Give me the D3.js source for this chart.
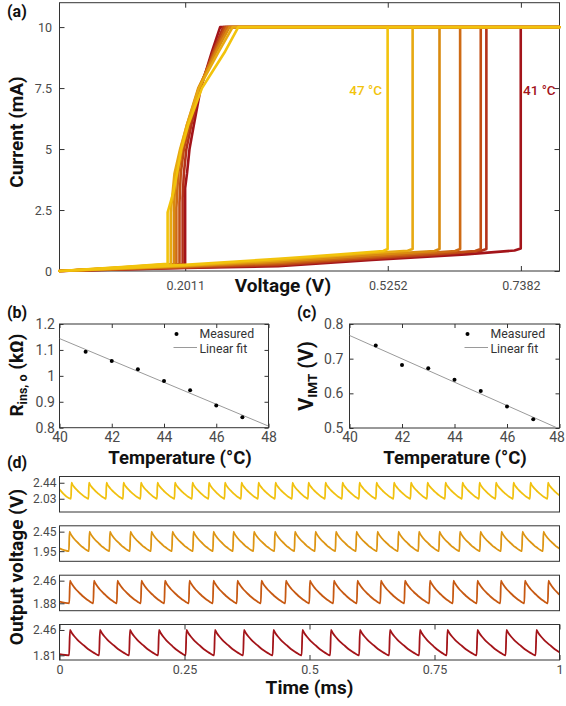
<!DOCTYPE html>
<html><head><meta charset="utf-8">
<script src="https://cdn.jsdelivr.net/npm/d3@7"></script>
<style>body{margin:0;background:#fff}svg{display:block}</style>
</head><body><svg id="c" width="566" height="706"></svg>
<script>
// ================= DATA =================
// (a) I–V sweeps at each temperature
const temps = [41, 42, 43, 44, 45, 46, 47];
const ivColors = ["#a3141a", "#b4321a", "#c14e14", "#ce6b15", "#d98a10", "#e7a912", "#f2c30c"];
const xTicksA = [0.2011, 0.5252, 0.7382];
const yTicksA = [0, 2.5, 5, 7.5, 10];
// insulating (forward) branch, [V, mA]
const ivForward = [
  [[0,0],[0.2,0.12],[0.35,0.2],[0.5,0.45],[0.65,0.68],[0.728,0.84],[0.738,0.92],[0.738,10],[0.8,10]],
  [[0,0],[0.2,0.14],[0.35,0.24],[0.5,0.5],[0.6,0.66],[0.674,0.82],[0.683,0.9],[0.683,10],[0.8,10]],
  [[0,0],[0.2,0.16],[0.35,0.28],[0.5,0.55],[0.6,0.7],[0.665,0.82],[0.674,0.9],[0.674,10],[0.8,10]],
  [[0,0],[0.2,0.18],[0.35,0.33],[0.5,0.6],[0.6,0.76],[0.633,0.82],[0.641,0.9],[0.641,10],[0.8,10]],
  [[0,0],[0.2,0.2],[0.35,0.38],[0.5,0.66],[0.6,0.82],[0.608,0.9],[0.608,10],[0.8,10]],
  [[0,0],[0.2,0.22],[0.35,0.44],[0.5,0.74],[0.557,0.83],[0.565,0.9],[0.565,10],[0.8,10]],
  [[0,0],[0.2,0.25],[0.35,0.5],[0.45,0.68],[0.518,0.82],[0.525,0.9],[0.525,10],[0.8,10]]
];
// metallic (return) branch, [V, mA]
const ivReturn = [
  [[0.8,10],[0.257,10],[0.244,9],[0.226,7.5],[0.215,6],[0.208,5],[0.204,4],[0.201,3.4],[0.201,0.26],[0.1,0.12],[0,0]],
  [[0.8,10],[0.262,10],[0.246,9],[0.225,7.5],[0.211,6],[0.203,5],[0.199,4],[0.197,3.0],[0.197,0.26],[0.1,0.12],[0,0]],
  [[0.8,10],[0.265,10],[0.247,9],[0.224,7.5],[0.208,6],[0.199,5],[0.194,4],[0.192,2.8],[0.192,0.27],[0.1,0.13],[0,0]],
  [[0.8,10],[0.268,10],[0.249,9],[0.223,7.5],[0.206,6],[0.196,5],[0.190,4],[0.187,2.6],[0.187,0.27],[0.1,0.13],[0,0]],
  [[0.8,10],[0.272,10],[0.251,9],[0.222,7.5],[0.204,6],[0.194,5],[0.186,4],[0.183,2.5],[0.183,0.28],[0.1,0.14],[0,0]],
  [[0.8,10],[0.277,10],[0.255,9],[0.223,7.5],[0.204,6],[0.193,5],[0.184,4],[0.178,2.4],[0.178,0.29],[0.1,0.15],[0,0]],
  [[0.8,10],[0.286,10],[0.265,9],[0.228,7.5],[0.206,6],[0.195,5],[0.188,4],[0.182,3.2],[0.173,2.4],[0.173,0.3],[0.1,0.16],[0,0]]
];

// (b), (c) extracted parameters
const xTicksBC = [40, 42, 44, 46, 48];
const yTicksB = [0.8, 0.9, 1, 1.1, 1.2];
const yTicksC = [0.5, 0.6, 0.7, 0.8];
const rInsMeas = [1.093, 1.057, 1.025, 0.980, 0.944, 0.886, 0.840];
const vImtMeas = [0.738, 0.682, 0.672, 0.639, 0.607, 0.562, 0.525];

// (d) oscillator output traces (top to bottom)
const traceColors = ["#f1c10f", "#dd9513", "#c75912", "#a31419"];
const vPeak = [2.44, 2.45, 2.46, 2.46];
const vTrough = [2.03, 1.95, 1.88, 1.81];
const vStart = [2.27, 2.02, 1.92, 1.84];
const peakTimes = [
  [0.024,0.059,0.094,0.128,0.163,0.196,0.231,0.266,0.299,0.331,0.364,0.398,0.432,0.466,0.498,0.532,0.566,0.600,0.634,0.669,0.703,0.736,0.772,0.806,0.840,0.873,0.908,0.942,0.977],
  [0.020,0.060,0.101,0.142,0.184,0.226,0.268,0.308,0.348,0.389,0.431,0.471,0.512,0.553,0.594,0.636,0.678,0.719,0.760,0.801,0.842,0.884,0.926,0.968],
  [0.021,0.069,0.116,0.164,0.211,0.260,0.308,0.356,0.404,0.453,0.501,0.549,0.596,0.643,0.691,0.741,0.788,0.836,0.883,0.931,0.978],
  [0.021,0.081,0.141,0.199,0.254,0.311,0.369,0.428,0.486,0.543,0.601,0.661,0.721,0.776,0.836,0.894,0.954]
];
// one decay cycle: fraction of period -> normalised level
const decayT = [0, 0.05, 0.15, 0.25, 0.35, 0.45, 0.55, 0.65, 0.75, 0.85, 0.93, 0.97];
const decayV = [1, 0.9, 0.74, 0.61, 0.5, 0.4, 0.3, 0.21, 0.13, 0.06, 0.01, 0];
const xTicksD = [0, 0.25, 0.5, 0.75, 1];

// ================= DRAWING =================
const FT = "Roboto, 'DejaVu Sans', sans-serif";
const svg = d3.select("#c");
const AX = "#333";

function styleAxis(g, fs, col) {
  g.attr("font-family", FT).attr("font-size", fs);
  g.select(".domain").remove();
  g.selectAll(".tick line").attr("stroke", AX);
  g.selectAll(".tick text").attr("fill", col || "#4a4a4a");
}
function frame(x, y, col) {
  const [x0, x1] = x.range(), [yb, yt] = y.range();
  svg.append("rect").attr("x", x0).attr("y", yt).attr("width", x1 - x0).attr("height", yb - yt)
    .attr("fill", "none").attr("stroke", col || AX).attr("stroke-width", 1);
}
function boxAxes(x, y, xt, yt, fs, padX, padY, tl) {
  const [x0, x1] = x.range(), [yb, ytop] = y.range();
  const gb = svg.append("g").attr("transform", `translate(0,${yb})`)
    .call(d3.axisBottom(x).tickValues(xt).tickSize(-tl).tickPadding(padX).tickFormat(d => String(d)))
    .call(g => styleAxis(g, fs));
  svg.append("g").attr("transform", `translate(0,${ytop})`)
    .call(d3.axisTop(x).tickValues(xt).tickSize(-tl).tickFormat(""))
    .call(g => styleAxis(g, fs));
  svg.append("g").attr("transform", `translate(${x0},0)`)
    .call(d3.axisLeft(y).tickValues(yt).tickSize(-tl).tickPadding(padY).tickFormat(d => String(d)))
    .call(g => styleAxis(g, fs));
  svg.append("g").attr("transform", `translate(${x1},0)`)
    .call(d3.axisRight(y).tickValues(yt).tickSize(-tl).tickFormat(""))
    .call(g => styleAxis(g, fs));
  frame(x, y);
  return gb;
}
function label(txt, x, y, opts) {
  const t = svg.append("text").attr("x", x).attr("y", y).text(txt)
    .attr("font-family", FT).attr("font-size", opts.fs).attr("font-weight", opts.fw || "bold")
    .attr("fill", opts.fill || "#111").attr("text-anchor", opts.anchor || "middle");
  if (opts.rot) t.attr("transform", `rotate(-90,${x},${y})`);
  return t;
}

// ---------- (a) ----------
const xA = d3.scaleLinear([0, 0.8], [59.5, 559.5]);
const yA = d3.scaleLinear([0, 11], [271, 2.7]);
const lineA = d3.line().x(d => xA(d[0])).y(d => yA(d[1]));
boxAxes(xA, yA, xTicksA, yTicksA, 12.5, 10.5, 7.5, 5);
temps.forEach((t, i) => {
  svg.append("path").datum(ivForward[i].concat(ivReturn[i]))
    .attr("d", lineA).attr("fill", "none").attr("stroke", ivColors[i])
    .attr("stroke-width", 2.6).attr("stroke-linejoin", "round").attr("stroke-linecap", "round");
});
label(temps[6] + " °C", 382, 94.5, {fs: 13.5, fw: 500, fill: ivColors[6], anchor: "end"});
label(temps[0] + " °C", 523, 94.5, {fs: 13.5, fw: 500, fill: ivColors[0], anchor: "start"});
label("(a)", 7, 16.5, {fs: 16, anchor: "start"});
label("Current (mA)", 22.5, 132, {fs: 19, rot: true});
label("Voltage (V)", 283, 292, {fs: 19});

// ---------- (b), (c) ----------
function scatterPanel(x, y, yt, vals, padY) {
  const gb = boxAxes(x, y, xTicksBC, yt, 14, 4.5, padY, 4);
  // least-squares linear fit of the measured points
  const mx = d3.mean(temps), my = d3.mean(vals);
  const slope = d3.sum(temps, (t, i) => (t - mx) * (vals[i] - my)) / d3.sum(temps, t => (t - mx) ** 2);
  const fit = x.domain().map(t => [t, my + slope * (t - mx)]);
  const id = "clip" + Math.round(x.range()[0]);
  const [x0, x1] = x.range(), [yb, ytop] = y.range();
  svg.append("clipPath").attr("id", id).append("rect").attr("x", x0).attr("y", ytop).attr("width", x1 - x0).attr("height", yb - ytop);
  svg.append("path").datum(fit).attr("clip-path", `url(#${id})`)
    .attr("d", d3.line().x(d => x(d[0])).y(d => y(d[1])))
    .attr("fill", "none").attr("stroke", "#9a9a9a").attr("stroke-width", 1);
  svg.append("g").selectAll("circle").data(vals).join("circle")
    .attr("cx", (d, i) => x(temps[i])).attr("cy", d => y(d)).attr("r", 2).attr("fill", "#000");
  // legend
  const r = x1;
  svg.append("circle").attr("cx", r - 92).attr("cy", ytop + 10).attr("r", 2).attr("fill", "#000");
  svg.append("line").attr("x1", r - 95).attr("x2", r - 71.5).attr("y1", ytop + 23.5).attr("y2", ytop + 23.5)
    .attr("stroke", "#9a9a9a").attr("stroke-width", 1);
  label("Measured", r - 69, ytop + 13.8, {fs: 12.3, fw: "normal", fill: "#333", anchor: "start"});
  label("Linear fit", r - 69, ytop + 28.5, {fs: 12.3, fw: "normal", fill: "#333", anchor: "start"});
  return gb;
}
const xB = d3.scaleLinear([40, 48], [59.5, 268.5]);
const yB = d3.scaleLinear([0.8, 1.2], [427.7, 324]);
scatterPanel(xB, yB, yTicksB, rInsMeas, 4.5);
const xC = d3.scaleLinear([40, 48], [349.5, 559.5]);
const yC = d3.scaleLinear([0.5, 0.8], [428, 324]);
const gC = scatterPanel(xC, yC, yTicksC, vImtMeas, 6);
// keep the last tick label of (c) inside the window
gC.selectAll(".tick text").filter(d => d === 48).attr("text-anchor", "end").attr("dx", "0.35em");

label("(b)", 7, 317.5, {fs: 16, anchor: "start"});
label("(c)", 297, 317.5, {fs: 16, anchor: "start"});
label("Temperature (°C)", 180, 464, {fs: 18.5});
label("Temperature (°C)", 455, 464, {fs: 18.5});
// R_ins,o label
{
  const t = svg.append("text").attr("transform", "translate(23,375) rotate(-90)")
    .attr("font-family", FT).attr("font-weight", "bold").attr("font-size", 19).attr("fill", "#111").attr("text-anchor", "middle");
  t.append("tspan").text("R");
  t.append("tspan").attr("font-size", 12.5).attr("dy", 4).text("ins, o");
  t.append("tspan").attr("dy", -4).text(" (kΩ)");
}
{
  const t = svg.append("text").attr("transform", "translate(313,376) rotate(-90)")
    .attr("font-family", FT).attr("font-weight", "bold").attr("font-size", 20).attr("fill", "#111").attr("text-anchor", "middle");
  t.append("tspan").text("V");
  t.append("tspan").attr("font-size", 13.5).attr("dy", 4).text("IMT");
  t.append("tspan").attr("dy", -4).text(" (V)");
}

// ---------- (d) ----------
const xD = d3.scaleLinear([0, 1], [59.5, 559.5]);
const subTops = [476.5, 525.8, 575.2, 624.5];
const subH = 35.5;
const lineD = d3.line().curve(d3.curveMonotoneX);
subTops.forEach((top, i) => {
  const yD = d3.scaleLinear([1.69, 2.6], [top + subH, top]);
  const pk = peakTimes[i], span = vPeak[i] - vTrough[i];
  const pts = [[0, vStart[i]], [pk[0] - 0.03 * (pk[1] - pk[0]), vTrough[i]]];
  pk.forEach((t, k) => {
    const per = k < pk.length - 1 ? pk[k + 1] - t : t - pk[k - 1];
    decayT.forEach((f, j) => pts.push([t + f * per, vTrough[i] + decayV[j] * span]));
  });
  const id = "clipd" + i;
  svg.append("clipPath").attr("id", id).append("rect").attr("x", 59.5).attr("y", top).attr("width", 500).attr("height", subH);
  svg.append("path").datum(pts.map(p => [xD(p[0]), yD(p[1])]))
    .attr("clip-path", `url(#${id})`).attr("d", lineD)
    .attr("fill", "none").attr("stroke", traceColors[i]).attr("stroke-width", 1.8).attr("stroke-linejoin", "round");
  svg.append("g").attr("transform", "translate(59.5,0)")
    .call(d3.axisLeft(yD).tickValues([vPeak[i], vTrough[i]]).tickSize(-5).tickPadding(3).tickFormat(d => d.toFixed(2)))
    .call(g => styleAxis(g, 12));
  if (i === 3) {
    svg.append("g").attr("transform", `translate(0,${top + subH})`)
      .call(d3.axisBottom(xD).tickValues(xTicksD).tickSize(-5).tickPadding(5).tickFormat(d => String(d)))
      .call(g => styleAxis(g, 12.5));
    svg.append("g").attr("transform", `translate(0,${top})`)
      .call(d3.axisTop(xD).tickValues(xTicksD).tickSize(-5).tickFormat(""))
      .call(g => styleAxis(g, 12));
  }
  frame(xD, yD);
});
label("(d)", 7, 468, {fs: 16, anchor: "start"});
label("Output voltage (V)", 23, 567, {fs: 19, rot: true});
label("Time (ms)", 309.5, 694, {fs: 19});
</script></body></html>
